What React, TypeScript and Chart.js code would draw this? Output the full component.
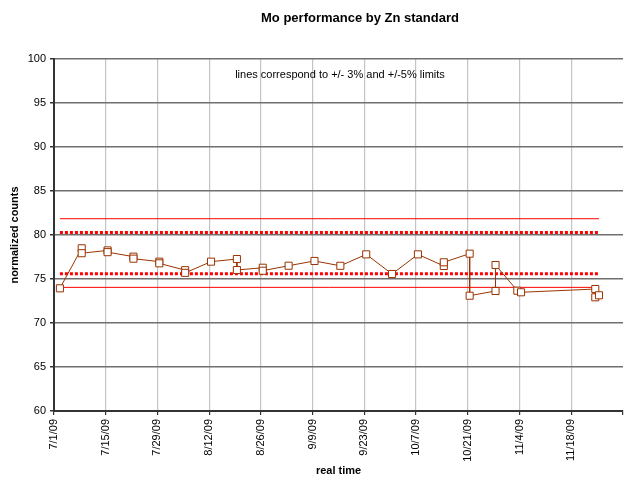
import React, { useEffect, useRef } from 'react';
import { Chart, registerables } from 'chart.js';

Chart.register(...registerables);

// ---- data ----
const TITLE = 'Mo performance by Zn standard';
const NOTE = 'lines correspond to +/- 3% and +/-5% limits';
const X_TITLE = 'real time';
const Y_TITLE = 'normalized counts';

// measurement times, in days since 7/1/09 (fraction = time of day)
const sampleDays = [
  1.6, 7.5, 7.5, 14.5, 14.5, 21.5, 21.5, 28.5, 28.5, 35.5, 35.5, 42.5,
  49.5, 49.5, 56.5, 56.5, 63.5, 70.5, 77.5, 84.5, 91.5, 98.5, 105.5, 105.5,
  112.5, 112.5, 119.5, 119.5, 125.4, 126.4, 146.5, 146.5, 147.5,
];
const normalizedCounts = [
  73.94, 78.49, 77.93, 78.25, 78.05, 77.54, 77.31, 76.97, 76.78, 76.0, 75.7, 76.97,
  77.27, 76.02, 76.28, 75.94, 76.51, 77.05, 76.5, 77.8, 75.57, 77.8, 76.48, 76.9,
  77.88, 73.1, 73.64, 76.59, 73.67, 73.49, 73.86, 72.92, 73.15,
];
// limit lines
const upper5 = 81.85;
const upper3 = 80.29;
const lower3 = 75.61;
const lower5 = 74.05;

const AXIS_START = [2009, 6, 1]; // 7/1/09
const X_MIN_DAY = 0;
const X_MAX_DAY = 154;
const X_STEP_DAYS = 14;
const Y_MIN = 60;
const Y_MAX = 100;
const Y_STEP = 5;

const FONT = '"Liberation Sans", Arial, Helvetica, sans-serif';

function dayLabel(d: number): string {
  const dt = new Date(AXIS_START[0], AXIS_START[1], AXIS_START[2] + d);
  const yy = String(dt.getFullYear() % 100).padStart(2, '0');
  return `${dt.getMonth() + 1}/${dt.getDate()}/${yy}`;
}

const textPlugin = {
  id: 'chartTexts',
  afterDraw(chart: any) {
    const ctx = chart.ctx;
    ctx.save();
    ctx.fillStyle = '#000';
    ctx.textAlign = 'center';
    ctx.textBaseline = 'middle';
    ctx.font = `bold 13px ${FONT}`;
    ctx.fillText(TITLE, 360, 18);
    ctx.font = `11px ${FONT}`;
    ctx.fillText(NOTE, 340, 75);
    ctx.restore();
  },
};

export default function App() {
  const ref = useRef<HTMLCanvasElement>(null);

  useEffect(() => {
    document.body.style.margin = '0';
    if (!ref.current) return;
    Chart.defaults.font.family = FONT;

    const first = sampleDays[0];
    const last = sampleDays[sampleDays.length - 1];
    const limitLine = (v: number) => [
      { x: first, y: v },
      { x: last, y: v },
    ];

    const chart = new Chart(ref.current, {
      type: 'line',
      data: {
        datasets: [
          {
            label: 'Mo',
            data: sampleDays.map((d, i) => ({ x: d, y: normalizedCounts[i] })),
            borderColor: '#993300',
            borderWidth: 1,
            pointStyle: 'rect',
            pointRadius: 5,
            pointBorderColor: '#993300',
            pointBackgroundColor: '#ffffff',
            pointBorderWidth: 1,
            tension: 0,
          },
          {
            label: '+5%',
            data: limitLine(upper5),
            borderColor: '#ff0000',
            borderWidth: 1,
            pointRadius: 0,
          },
          {
            label: '+3%',
            data: limitLine(upper3),
            borderColor: '#ff0000',
            borderWidth: 3,
            borderDash: [3, 2],
            pointRadius: 0,
          },
          {
            label: '-3%',
            data: limitLine(lower3),
            borderColor: '#ff0000',
            borderWidth: 3,
            borderDash: [3, 2],
            pointRadius: 0,
          },
          {
            label: '-5%',
            data: limitLine(lower5),
            borderColor: '#ff0000',
            borderWidth: 1,
            pointRadius: 0,
          },
        ],
      },
      options: {
        animation: false,
        responsive: false,
        devicePixelRatio: 1,
        layout: { autoPadding: false, padding: { top: 59, right: 1, left: 0, bottom: 0 } },
        plugins: {
          legend: { display: false },
          tooltip: { enabled: false },
          title: { display: false },
        },
        scales: {
          x: {
            type: 'linear',
            min: X_MIN_DAY,
            max: X_MAX_DAY,
            ticks: {
              stepSize: X_STEP_DAYS,
              autoSkip: false,
              maxRotation: 90,
              minRotation: 90,
              color: '#000',
              padding: 4,
              font: { size: 11, family: FONT },
              callback: (v: any) => (Number(v) >= X_MAX_DAY ? '' : dayLabel(Number(v))),
            },
            grid: {
              color: (c: any) =>
                c.tick && (c.tick.value <= X_MIN_DAY || c.tick.value >= X_MAX_DAY)
                  ? 'rgba(0,0,0,0)'
                  : '#c4c4c4',
              lineWidth: 1.2,
              tickColor: '#333',
              tickLength: 4,
            },
            border: { color: '#333', width: 2 },
            title: {
              display: true,
              text: X_TITLE,
              color: '#000',
              font: { size: 11, weight: 'bold', family: FONT },
              padding: { top: 0, bottom: 9 },
            },
            afterFit: (s: any) => {
              s.height = 76;
              s.paddingLeft = 0;
              s.paddingRight = 0;
            },
          },
          y: {
            min: Y_MIN,
            max: Y_MAX,
            ticks: {
              stepSize: Y_STEP,
              color: '#000',
              padding: 4,
              font: { size: 11, family: FONT },
            },
            grid: {
              color: '#707070',
              lineWidth: 1.5,
              tickColor: '#333',
              tickLength: 4,
            },
            border: { color: '#333', width: 2 },
            title: {
              display: true,
              text: Y_TITLE,
              color: '#000',
              font: { size: 11, weight: 'bold', family: FONT },
              padding: { top: 8, bottom: 0 },
            },
            afterFit: (s: any) => {
              s.width = 54;
              s.paddingTop = 0;
              s.paddingBottom = 0;
            },
          },
        },
      },
      plugins: [textPlugin],
    });
    return () => chart.destroy();
  }, []);

  return (
    <div style={{ width: 624, height: 487, background: '#fff' }}>
      <canvas ref={ref} width={624} height={487} style={{ display: 'block', width: 624, height: 487 }} />
    </div>
  );
}
